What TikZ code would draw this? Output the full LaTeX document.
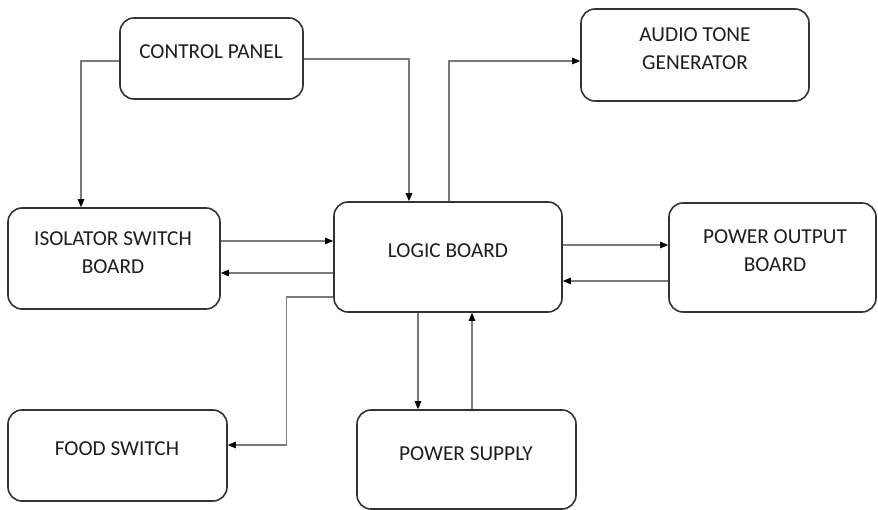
\documentclass[tikz,border=0pt]{standalone}
\usepackage{fontspec}
\setmainfont{Carlito}
\usetikzlibrary{arrows.meta,calc}

\definecolor{boxline}{HTML}{333333}
\definecolor{wire}{HTML}{7A7A7A}
\definecolor{ink}{HTML}{1E1E1E}

\begin{document}
\begin{tikzpicture}[x=1pt,y=-1pt,
  block/.style={draw=boxline, line width=1.6pt, rounded corners=14pt,
    inner sep=0pt, fill=white},
  caption/.style={text=ink, align=center, inner sep=0pt,
    font=\fontsize{21.3}{28}\selectfont},
  conn/.style={draw=wire, line width=1.1pt,
    -{Triangle[length=8pt,width=6.5pt,color=black,fill=black]}}
]
\useasboundingbox[fill=white] (0,0) rectangle (878,510);

% blocks
\node[block, minimum width=183, minimum height=81]  (cp)    at (211.5,58.5) {};
\node[block, minimum width=228, minimum height=92]  (audio) at (695,55)     {};
\node[block, minimum width=212, minimum height=101] (iso)   at (114,258.5)  {};
\node[block, minimum width=228, minimum height=110] (logic) at (448,257)    {};
\node[block, minimum width=207, minimum height=109] (pout)  at (772.5,257.5){};
\node[block, minimum width=219, minimum height=91]  (food)  at (117.5,455.5){};
\node[block, minimum width=219, minimum height=99]  (ps)    at (466.5,459.5){};

% captions
\node[caption] (cp-t)    at (211,52)  {CONTROL PANEL};
\node[caption] (audio-t) at (695,49)  {AUDIO TONE\\GENERATOR};
\node[caption] (iso-t)   at (113,253) {ISOLATOR SWITCH\\BOARD};
\node[caption] (logic-t) at (448,251) {LOGIC BOARD};
\node[caption] (pout-t)  at (775,251) {POWER OUTPUT\\BOARD};
\node[caption] (food-t)  at (117,449) {FOOD SWITCH};
\node[caption] (ps-t)    at (466,454) {POWER SUPPLY};

% connections
\draw[conn] ($(cp.west)+(0,2.5)$) -| ($(iso.north)+(-33,0)$);
\draw[conn] ($(cp.east)+(0,0.5)$) -| ($(logic.north)+(-39,0)$);
\draw[conn] ($(logic.north)+(1,0)$) |- ($(audio.west)+(0,6)$);
\draw[conn] ($(iso.east)+(0,-17.5)$) -- ($(logic.west)+(0,-16)$);
\draw[conn] ($(logic.west)+(0,16)$) -- ($(iso.east)+(0,14.5)$);
\draw[conn] ($(logic.west)+(0,40)$) -- ++(-47,0) |- ($(food.east)+(0,-10.5)$);
\draw[conn] ($(logic.east)+(0,-12)$) -- ($(pout.west)+(0,-12.5)$);
\draw[conn] ($(pout.west)+(0,23.5)$) -- ($(logic.east)+(0,24)$);
\draw[conn] ($(logic.south)+(-30,0)$) -- ($(ps.north)+(-48.5,0)$);
\draw[conn] ($(ps.north)+(5.5,0)$) -- ($(logic.south)+(24,0)$);
\end{tikzpicture}
\end{document}
